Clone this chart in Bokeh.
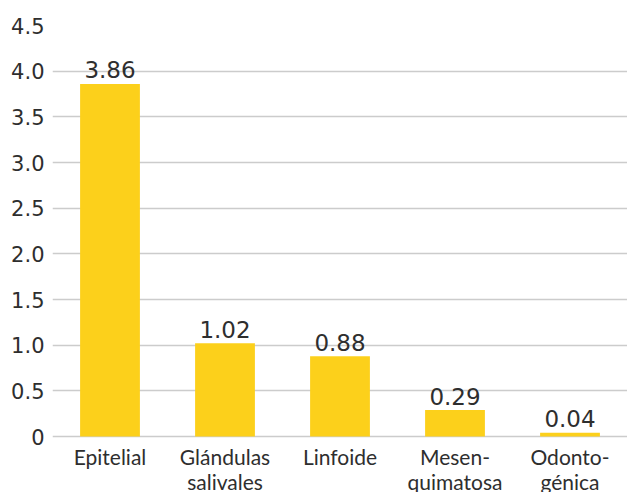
from bokeh.plotting import figure
from bokeh.models import ColumnDataSource, FixedTicker, NumeralTickFormatter, Range1d, FactorRange
from bokeh.core.properties import value
from bokeh.embed import file_html
from bokeh.resources import INLINE

categories = ["Epitelial", "Glándulas salivales", "Linfoide", "Mesenquimatosa", "Odontogénica"]
label_line1 = ["Epitelial", "Glándulas", "Linfoide", "Mesen-", "Odonto-"]
label_line2 = ["", "salivales", "", "quimatosa", "génica"]
values = [3.86, 1.02, 0.88, 0.29, 0.04]
value_labels = ["3.86", "1.02", "0.88", "0.29", "0.04"]
y_ticks = [0, 0.5, 1.0, 1.5, 2.0, 2.5, 3.0, 3.5, 4.0, 4.5]

NUM_FONT = "DejaVu Sans"
CAT_FONT = "Lato"
TXT = "#2e2e2e"

src = ColumnDataSource(dict(cat=categories, val=values, lab=value_labels,
                            l1=label_line1, l2=label_line2,
                            base=[0] * len(categories)))

# frame spans from the 4.5 gridline down to the bottom of the page
p = figure(x_range=FactorRange(*categories, range_padding=0), y_range=Range1d(-0.613, 4.5),
           width=627, height=492, output_backend="svg", toolbar_location=None,
           min_border_left=52, min_border_right=0, min_border_top=25, min_border_bottom=0)
p.outline_line_color = None
p.background_fill_color = "white"

p.vbar(x="cat", top="val", width=0.52, source=src, color="#FCD01B", line_color=None)
p.text(x="cat", y="val", text="lab", source=src, text_align="center", text_baseline="alphabetic",
       y_offset=-14, text_font=value(NUM_FONT), text_font_size="23px", text_color=TXT)

# category labels (two lines) below the zero line
p.text(x="cat", y="base", text="l1", source=src, text_align="center", text_baseline="alphabetic",
       y_offset=20, text_font=value(CAT_FONT), text_font_size="21px", text_color=TXT)
p.text(x="cat", y="base", text="l2", source=src, text_align="center", text_baseline="alphabetic",
       y_offset=45, text_font=value(CAT_FONT), text_font_size="21px", text_color=TXT)

p.xgrid.grid_line_color = None
p.ygrid.grid_line_color = "#cccccc"
p.ygrid.grid_line_width = 1.5
p.ygrid.level = "underlay"

p.xaxis.visible = False
p.yaxis.ticker = FixedTicker(ticks=y_ticks)
p.yaxis.formatter = NumeralTickFormatter(format="0.0")
p.yaxis.major_label_overrides = {0: "0"}
p.yaxis.axis_line_color = None
p.yaxis.major_tick_line_color = None
p.yaxis.minor_tick_line_color = None
p.yaxis.major_label_text_font = NUM_FONT
p.yaxis.major_label_text_color = TXT
p.yaxis.major_label_text_font_size = "21px"
p.yaxis.major_label_standoff = 2

open("out.html", "w").write(file_html(p, INLINE))
